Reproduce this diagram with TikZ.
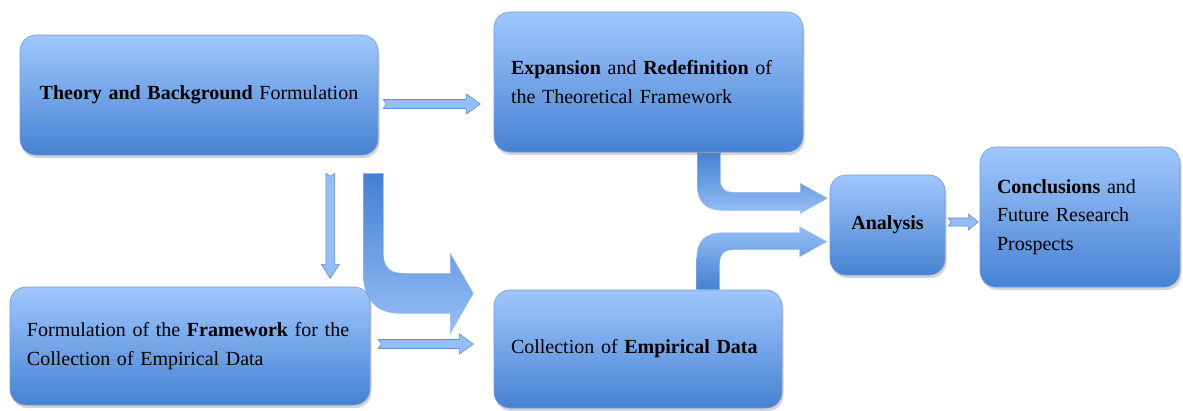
\documentclass[tikz,border=0pt]{standalone}
\usepackage{fontspec}
\setmainfont{Liberation Serif}
\usetikzlibrary{calc,shadows,backgrounds}
\definecolor{boxtop}{RGB}{160,199,253}
\definecolor{boxbot}{RGB}{70,130,210}
\definecolor{boxline}{RGB}{110,155,222}
\definecolor{arrlight}{RGB}{150,190,246}
\definecolor{arrdark}{RGB}{68,128,210}
\definecolor{arrline}{RGB}{90,140,215}
\newcommand{\hblock}[5]{%
  \path[thinarrow,shift={(#1)}] (0,-#4) -- ({#2-#3},-#4) -- ({#2-#3},-#5) -- (#2,0)
    -- ({#2-#3},#5) -- ({#2-#3},#4) -- (0,#4) -- (3,0) -- cycle;}
\begin{document}
\begin{tikzpicture}[x=1pt,y=-1pt,
  box/.style={draw=boxline, line width=0.6pt, rounded corners=16pt,
    top color=boxtop, bottom color=boxbot,
    drop shadow={opacity=0.35, shadow xshift=1.5pt, shadow yshift=-3pt},
    font=\fontsize{20}{28.5}\selectfont, inner xsep=17pt, inner ysep=0pt, align=left},
  thinarrow/.style={fill=arrlight, draw=arrline, line width=0.6pt},
  bentdown/.style={top color=arrdark, bottom color=arrlight, draw=arrline!60, line width=0.4pt},
  bentup/.style={top color=arrlight, bottom color=arrdark, draw=arrline!60, line width=0.4pt}]
\useasboundingbox (0,0) rectangle (1183,410);

\node[box, align=center, text width=324pt, minimum height=120pt] (A) at (199,95)
  {\textbf{Theory and Background} Formulation};
\node[box, text width=275pt, minimum height=140pt] (B) at (648.5,82)
  {\textbf{Expansion} and \textbf{Redefinition} of\\the Theoretical Framework};
\node[box, text width=326pt, minimum height=118pt] (C) at (190,346)
  {Formulation of the \textbf{Framework} for the\\Collection of Empirical Data};
\node[box, text width=254pt, minimum height=118pt] (D) at (638,349)
  {Collection of \textbf{Empirical Data}};
\node[box, align=center, text width=81pt, minimum height=100pt] (E) at (887.5,225)
  {\textbf{Analysis}};
\node[box, text width=166pt, minimum height=140pt] (F) at (1080,217)
  {\textbf{Conclusions} and\\Future Research\\Prospects};

\begin{scope}[on background layer]
  % A -> B
  \hblock{$(A.east)+(5,9)$}{97}{14}{4.5}{10}
  % C -> D
  \hblock{$(C.east)+(8,-2)$}{95}{14}{4.5}{10}
  % E -> F
  \hblock{$(E.east)+(3,-3)$}{30}{10}{4}{8}
  % A -> C (vertical)
  \path[thinarrow,shift={($(A.south east)+(-48,18)$)}]
    (-4.5,0) -- (-4.5,91) -- (-9,91) -- (0,105) -- (9,91) -- (4.5,91) -- (4.5,0) -- (0,3) -- cycle;
  % A -> D (big bent arrow)
  \path[bentdown,shift={($(A.south east)+(-15,18)$)}]
    (0,0) -- (0,100) .. controls (0,125) and (12,140) .. (36,140) -- (87,140) -- (87,160) -- (110,120)
    -- (87,80) -- (87,100) -- (40,100) .. controls (27,100) and (20,94) .. (20,80) -- (20,0) -- cycle;
  % B -> E
  \path[bentdown,shift={($(B.south east)+(-106,0)$)}]
    (0,0) -- (0,32) .. controls (0,50) and (8,58) .. (26,58) -- (103,58) -- (103,61) -- (130,46)
    -- (103,31) -- (103,40) -- (37,40) .. controls (27,40) and (23,36) .. (23,27) -- (23,0) -- cycle;
  % D -> E
  \path[bentup,shift={($(D.north west)+(203,0)$)}]
    (0,0) -- (0,-30) .. controls (0,-49) and (8,-57) .. (27,-57) -- (103,-57) -- (103,-63) -- (130,-48)
    -- (103,-33) -- (103,-40) -- (38,-40) .. controls (27,-40) and (23,-36) .. (23,-26) -- (23,0) -- cycle;
\end{scope}
\end{tikzpicture}
\end{document}
